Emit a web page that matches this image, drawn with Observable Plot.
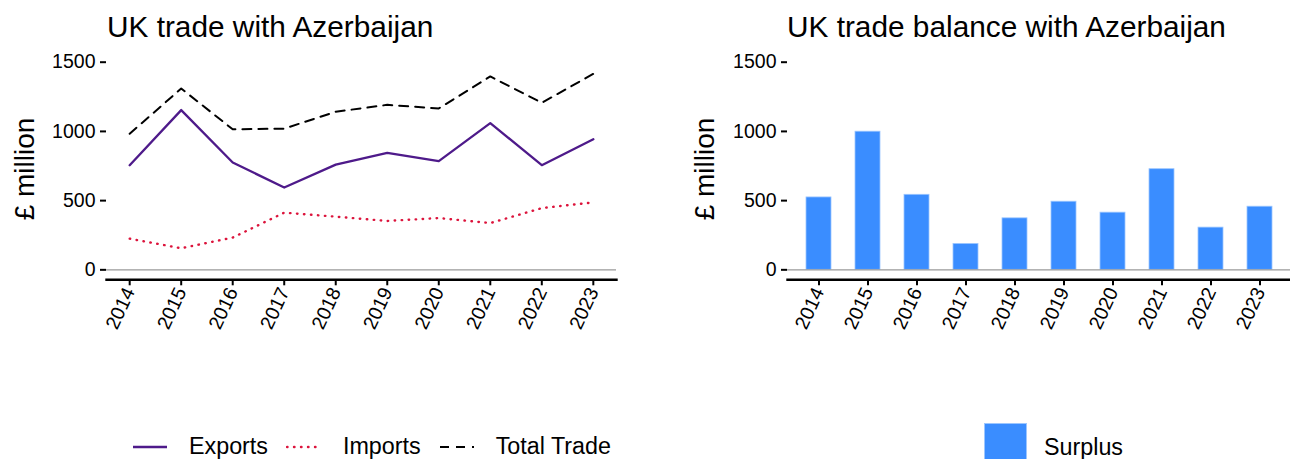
<!DOCTYPE html>
<html>
<head>
<meta charset="utf-8">
<script src="https://cdn.jsdelivr.net/npm/d3@7"></script>
<script src="https://cdn.jsdelivr.net/npm/@observablehq/plot@0.6"></script>
<style>
  html, body { margin: 0; padding: 0; background: #fff; }
  body { font-family: "Liberation Sans", Arial, sans-serif; color: #000; }
  #wrap { position: relative; width: 1290px; height: 459px; overflow: hidden; }
  .panel { position: absolute; top: 0; }
  .title { position: absolute; font-size: 29.8px; white-space: nowrap; line-height: 1; }
  .ytitle { position: absolute; font-size: 28px; white-space: nowrap; line-height: 1;
            transform: translate(-50%, -50%) rotate(-90deg); }
  .legend { position: absolute; font-size: 23.3px; white-space: nowrap; display: flex; align-items: center; }
  .legend svg { display: block; }
  .legend span { display: inline-block; }
</style>
</head>
<body>
<div id="wrap"></div>
<script>
// ---- data ----
const years   = [2014, 2015, 2016, 2017, 2018, 2019, 2020, 2021, 2022, 2023];
const exportsV = [756, 1154, 775, 595, 760, 845, 785, 1060, 756, 943];
const importsV = [225, 156, 233, 413, 384, 353, 374, 338, 446, 487];
const totalV   = [983, 1310, 1015, 1020, 1142, 1192, 1166, 1397, 1207, 1416];
const balanceV = [523, 998, 542, 187, 372, 492, 413, 727, 305, 456];
const yTicks   = [0, 500, 1000, 1500];
const seriesNames = ["Exports", "Imports", "Total Trade"];
const balanceName = "Surplus";

const colExports = "#4E1A8A";
const colImports = "#DC143C";
const colTotal   = "#000000";
const colBar     = "#3A8DFF";

const wrap = document.getElementById("wrap");
const FONT = "Liberation Sans, Arial, sans-serif";

const toRows = vals => years.map((y, i) => ({year: y, value: vals[i]}));

// ---- left panel: lines ----
const left = Plot.plot({
  width: 645, height: 340,
  marginLeft: 106, marginRight: 29, marginTop: 61.7, marginBottom: 60.7,
  style: {fontFamily: FONT, fontSize: "19px", color: "#000", background: "transparent", overflow: "visible"},
  x: {type: "linear", domain: [2013.55, 2023.45]},
  y: {domain: [-72, 1500]},
  marks: [
    Plot.ruleY([0], {stroke: "#9a9a9a", strokeWidth: 1.3}),
    Plot.line(toRows(totalV), {x: "year", y: "value", stroke: colTotal, strokeWidth: 2, strokeDasharray: "9 7"}),
    Plot.line(toRows(importsV), {x: "year", y: "value", stroke: colImports, strokeWidth: 2.4, strokeDasharray: "0.5 6.5", strokeLinecap: "round"}),
    Plot.line(toRows(exportsV), {x: "year", y: "value", stroke: colExports, strokeWidth: 2.3}),
    Plot.frame({anchor: "bottom", strokeWidth: 2.4, stroke: "#000"}),
    Plot.axisX({ticks: years, tickFormat: d => String(d), tickRotate: -65, tickSize: 6, tickPadding: 3, strokeWidth: 2, fontSize: 19.5, label: null}),
    Plot.axisY({ticks: yTicks, tickFormat: d => String(d), tickSize: 6, tickPadding: 5, strokeWidth: 2, fontSize: 19.5, label: null})
  ]
});
left.classList.add("panel");
left.style.left = "0px";
wrap.appendChild(left);

// ---- right panel: bars ----
const right = Plot.plot({
  width: 645, height: 340,
  marginLeft: 142, marginRight: 0, marginTop: 61.7, marginBottom: 60.7,
  style: {fontFamily: FONT, fontSize: "19px", color: "#000", background: "transparent", overflow: "visible"},
  x: {type: "band", domain: years, paddingInner: 0.5, paddingOuter: 0.35},
  y: {domain: [-72, 1500]},
  marks: [
    Plot.barY(toRows(balanceV), {x: "year", y: "value", fill: colBar, stroke: "#9cc6ff", strokeWidth: 0.8}),
    Plot.ruleY([0], {stroke: "#9a9a9a", strokeWidth: 1.3}),
    Plot.frame({anchor: "bottom", strokeWidth: 2.4, stroke: "#000"}),
    Plot.axisX({tickFormat: d => String(d), tickRotate: -65, tickSize: 6, tickPadding: 3, strokeWidth: 2, fontSize: 19.5, label: null}),
    Plot.axisY({ticks: yTicks, tickFormat: d => String(d), tickSize: 6, tickPadding: 5, strokeWidth: 2, fontSize: 19.5, label: null})
  ]
});
right.classList.add("panel");
right.style.left = "645px";
wrap.appendChild(right);

// ---- titles ----
function addDiv(cls, text, css) {
  const d = document.createElement("div");
  d.className = cls;
  d.textContent = text;
  Object.assign(d.style, css);
  wrap.appendChild(d);
  return d;
}
addDiv("title", "UK trade with Azerbaijan", {left: "107px", top: "12px"});
addDiv("title", "UK trade balance with Azerbaijan", {left: "787px", top: "12px"});
addDiv("ytitle", "£ million", {left: "25px", top: "169px"});
addDiv("ytitle", "£ million", {left: "705px", top: "169px"});

// ---- legends ----
function swatchLine(color, dash, width) {
  const ns = "http://www.w3.org/2000/svg";
  const s = document.createElementNS(ns, "svg");
  s.setAttribute("width", 36); s.setAttribute("height", 20);
  const l = document.createElementNS(ns, "line");
  l.setAttribute("x1", 1); l.setAttribute("x2", 35); l.setAttribute("y1", 10); l.setAttribute("y2", 10);
  l.setAttribute("stroke", color); l.setAttribute("stroke-width", width);
  if (dash) l.setAttribute("stroke-dasharray", dash);
  if (dash && dash.startsWith("0.5")) l.setAttribute("stroke-linecap", "round");
  s.appendChild(l);
  return s;
}
const leg1 = document.createElement("div");
leg1.className = "legend";
Object.assign(leg1.style, {left: "132px", top: "433px"});
const swatches = [
  swatchLine(colExports, null, 2.3),
  swatchLine(colImports, "0.5 6.5", 2.4),
  swatchLine(colTotal, "9 7", 2)
];
seriesNames.forEach((name, i) => {
  leg1.appendChild(swatches[i]);
  const sp = document.createElement("span");
  sp.textContent = name;
  sp.style.marginLeft = "21px";
  sp.style.marginRight = i < seriesNames.length - 1 ? "18px" : "0";
  leg1.appendChild(sp);
});
wrap.appendChild(leg1);

const leg2 = document.createElement("div");
leg2.className = "legend";
Object.assign(leg2.style, {left: "984px", top: "423px", alignItems: "flex-start"});
const sq = document.createElement("div");
Object.assign(sq.style, {width: "43px", height: "43px", background: colBar, boxSizing: "border-box", border: "1px solid #9cc6ff"});
leg2.appendChild(sq);
const sp2 = document.createElement("span");
sp2.textContent = balanceName;
Object.assign(sp2.style, {marginLeft: "17px", marginTop: "11px"});
leg2.appendChild(sp2);
wrap.appendChild(leg2);
</script>
</body>
</html>
